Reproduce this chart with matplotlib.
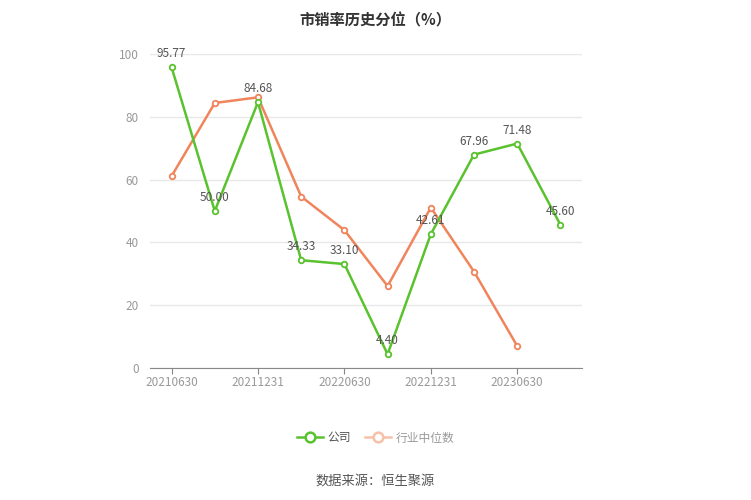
import matplotlib
matplotlib.use("Agg")
import matplotlib.pyplot as plt
from matplotlib.lines import Line2D

plt.rcParams['font.family'] = ['Noto Sans CJK SC', 'DejaVu Sans']

dates = ["20210630", "20210930", "20211231", "20220331", "20220630",
         "20220930", "20221231", "20230331", "20230630", "20230930"]
company = [95.77, 50.00, 84.68, 34.33, 33.10, 4.40, 42.61, 67.96, 71.48, 45.60]
industry = [61.1, 84.4, 86.2, 54.6, 43.9, 26.1, 51.1, 30.7, 7.0]

GREEN = "#5ac22e"
ORANGE = "#f0845a"

fig = plt.figure(figsize=(7.51, 5.0), dpi=100)
ax = fig.add_axes([0.1997, 0.264, 0.5753, 0.628])

x = list(range(len(dates)))
ax.plot(x[:len(industry)], industry, color=ORANGE, lw=1.8, marker="o", ms=4,
        mfc="white", mec=ORANGE, mew=1.3, zorder=3)
ax.plot(x, company, color=GREEN, lw=1.8, marker="o", ms=4,
        mfc="white", mec=GREEN, mew=1.3, zorder=4)

for xi, v in zip(x, company):
    ax.annotate(f"{v:.2f}", (xi, v), xytext=(0, 5), textcoords="offset points",
                ha="center", va="bottom", fontsize=8.5, color="#555555", zorder=5)

ax.set_xlim(-0.5, len(dates) - 0.5)
ax.set_ylim(0, 100)
ax.set_yticks([0, 20, 40, 60, 80, 100])
ax.set_xticks(x[::2])
ax.set_xticklabels(dates[::2])
ax.tick_params(axis="y", length=0, labelsize=8.5, labelcolor="#999999", pad=8)
ax.tick_params(axis="x", length=4, color="#888888", labelsize=8.5,
               labelcolor="#999999", pad=2)
ax.grid(axis="y", color="#e8e8e8", lw=1)
ax.set_axisbelow(True)
for s in ["top", "right", "left"]:
    ax.spines[s].set_visible(False)
ax.spines["bottom"].set_color("#888888")

fig.text(0.5, 0.976, "市销率历史分位（%）", ha="center", va="top",
         fontsize=11, fontweight="bold", color="#333333")

handles = [
    Line2D([], [], color=GREEN, lw=1.8, marker="o", ms=7, mfc="white", mec=GREEN, mew=1.8),
    Line2D([], [], color="#f7c0a8", lw=1.8, marker="o", ms=7, mfc="white", mec="#f7c0a8", mew=1.8),
]
leg = fig.legend(handles, ["公司", "行业中位数"], loc="center", bbox_to_anchor=(0.5, 0.124),
                 ncol=2, frameon=False, fontsize=8.5, handlelength=2.2,
                 columnspacing=1.2, handletextpad=0.4)
for t, c in zip(leg.get_texts(), ["#555555", "#999999"]):
    t.set_color(c)

fig.text(0.5, 0.038, "数据来源：恒生聚源", ha="center", va="center",
         fontsize=9.5, color="#555555")

fig.savefig("out.png", dpi=100)
